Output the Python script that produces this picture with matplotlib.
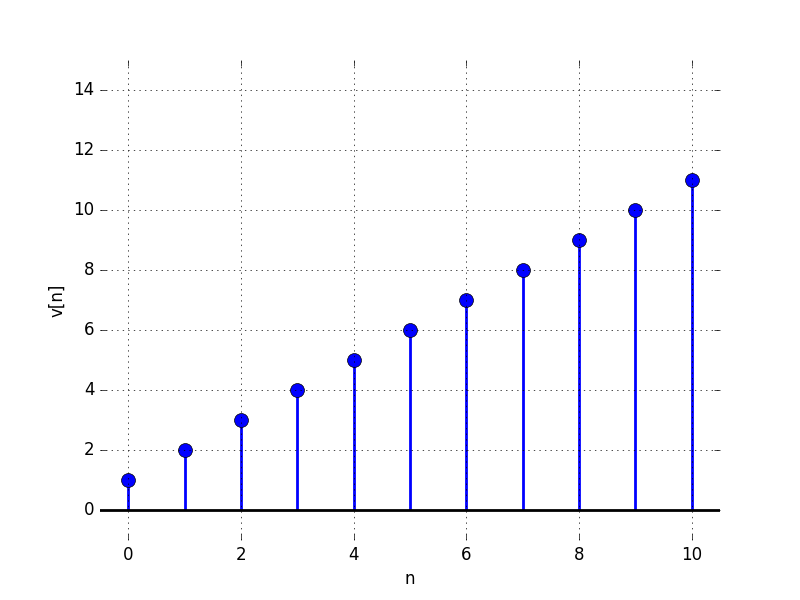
import matplotlib
matplotlib.use('Agg')
import matplotlib.pyplot as plt

plt.style.use('classic')

# sequence values
n = [0, 1, 2, 3, 4, 5, 6, 7, 8, 9, 10]
v = [1, 2, 3, 4, 5, 6, 7, 8, 9, 10, 11]

fig, ax = plt.subplots(figsize=(8, 6), dpi=100)

markers, stems, base = ax.stem(n, v, linefmt='b-', markerfmt='bo', basefmt=' ')
plt.setp(stems, linewidth=2)
plt.setp(markers, markersize=10, markeredgecolor='k')

ax.axhline(0, color='k', linewidth=2)

ax.set_xlim(-0.5, 10.5)
ax.set_ylim(-1, 15)
ax.set_xlabel('n')
ax.set_ylabel('v[n]')
ax.set_frame_on(False)
ax.grid(True)

plt.savefig('out.png', dpi=100)
